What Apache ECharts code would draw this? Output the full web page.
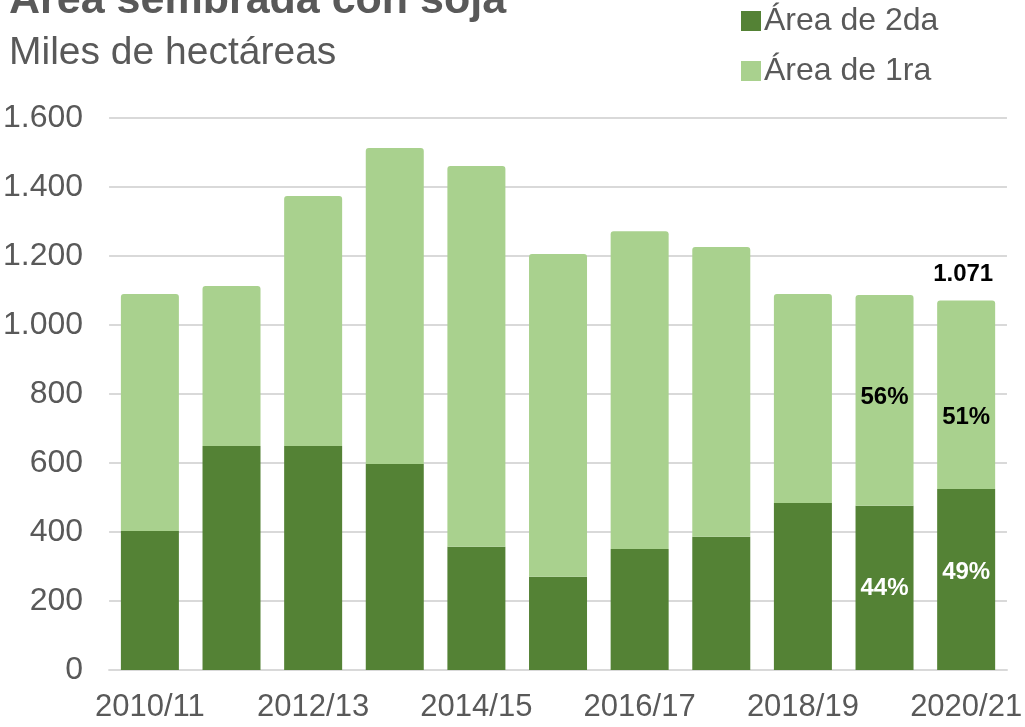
<!DOCTYPE html>
<html>
<head>
<meta charset="utf-8">
<script src="https://cdn.jsdelivr.net/npm/echarts@6/dist/echarts.min.js"></script>
<style>
    html, body { margin: 0; padding: 0; background: #fff; }
    #main { width: 1025px; height: 727px; }
</style>
</head>
<body>
<div id="main"></div>
<script>
// campañas
var campanas = ['2010/11', '2011/12', '2012/13', '2013/14', '2014/15', '2015/16',
    '2016/17', '2017/18', '2018/19', '2019/20', '2020/21'];
// miles de hectáreas
var area2da = [403, 649, 649, 597, 357, 270, 351, 386, 484, 476, 525];
var area1ra = [687, 464, 725, 916, 1104, 936, 921, 840, 606, 611, 546];
// etiquetas de porcentaje
var pct2da = ['', '', '', '', '', '', '', '', '', '44%', '49%'];
var pct1ra = ['', '', '', '', '', '', '', '', '', '56%', '51%'];
var totalLabel = ['', '', '', '', '', '', '', '', '', '', '1.071'];
var yTicks = [0, 200, 400, 600, 800, 1000, 1200, 1400, 1600];

var chart = echarts.init(document.getElementById('main'));

function miles(v) {
    return String(v).replace(/\B(?=(\d{3})+(?!\d))/g, '.');
}

// pequeños ajustes de posición de las etiquetas (como en el original)
var off2da = { 9: [0, 0], 10: [0, -7] };
var off1ra = { 9: [0, -3], 10: [0, 23] };

function conEtiqueta(values, offsets) {
    return values.map(function (v, i) {
        var item = { value: v };
        if (offsets[i]) item.label = { offset: offsets[i] };
        return item;
    });
}

var labelFont = { fontFamily: 'Liberation Sans', fontSize: 24, fontWeight: 'bold' };

var option = {
    animation: false,
    title: [
        {
            text: 'Área sembrada con soja',
            left: 4,
            top: -25,
            textStyle: { fontFamily: 'Liberation Sans', fontSize: 43, fontWeight: 'bold', color: '#595959' }
        },
        {
            text: 'Miles de hectáreas',
            left: 4,
            top: 29,
            textStyle: { fontFamily: 'Liberation Sans', fontSize: 39, fontWeight: 'normal', color: '#595959' }
        }
    ],
    legend: {
        orient: 'vertical',
        left: 736,
        top: 0,
        itemWidth: 20,
        itemHeight: 20,
        itemGap: 18,
        icon: 'rect',
        data: ['Área de 2da', 'Área de 1ra'],
        textStyle: { fontFamily: 'Liberation Sans', fontSize: 32, color: '#595959', padding: [0, 0, 0, -2] }
    },
    grid: {
        left: 106,
        right: 17,
        top: 118,
        bottom: 57
    },
    xAxis: {
        type: 'category',
        data: campanas,
        axisLine: { show: true, lineStyle: { color: '#d9d9d9', width: 2 } },
        axisTick: { show: false },
        axisLabel: {
            interval: 1,
            margin: 22,
            fontFamily: 'Liberation Sans',
            fontSize: 31,
            color: '#595959'
        }
    },
    yAxis: {
        type: 'value',
        min: yTicks[0],
        max: yTicks[yTicks.length - 1],
        interval: 200,
        axisLine: { show: false },
        axisTick: { show: false },
        splitLine: { lineStyle: { color: '#d9d9d9', width: 2 } },
        axisLabel: {
            margin: 26,
            fontFamily: 'Liberation Sans',
            fontSize: 32,
            color: '#595959',
            formatter: function (v) { return miles(v); }
        }
    },
    series: [
        {
            name: 'Área de 2da',
            type: 'bar',
            stack: 'total',
            barWidth: 58,
            itemStyle: { color: '#548235' },
            label: Object.assign({
                show: true,
                position: 'inside',
                color: '#ffffff',
                formatter: function (p) { return pct2da[p.dataIndex]; }
            }, labelFont),
            data: conEtiqueta(area2da, off2da)
        },
        {
            name: 'Área de 1ra',
            type: 'bar',
            stack: 'total',
            barWidth: 58,
            itemStyle: { color: '#a9d18e', borderRadius: [3, 3, 0, 0] },
            label: Object.assign({
                show: true,
                position: 'inside',
                color: '#000000',
                formatter: function (p) { return pct1ra[p.dataIndex]; }
            }, labelFont),
            data: conEtiqueta(area1ra, off1ra)
        },
        {
            name: 'total',
            type: 'bar',
            stack: 'total',
            barWidth: 58,
            silent: true,
            itemStyle: { color: 'transparent' },
            label: Object.assign({
                show: true,
                position: 'top',
                distance: 14,
                offset: [-3, 0],
                color: '#000000',
                formatter: function (p) { return totalLabel[p.dataIndex]; }
            }, labelFont),
            data: area1ra.map(function () { return 0; })
        }
    ]
};

option && chart.setOption(option);
</script>
</body>
</html>
